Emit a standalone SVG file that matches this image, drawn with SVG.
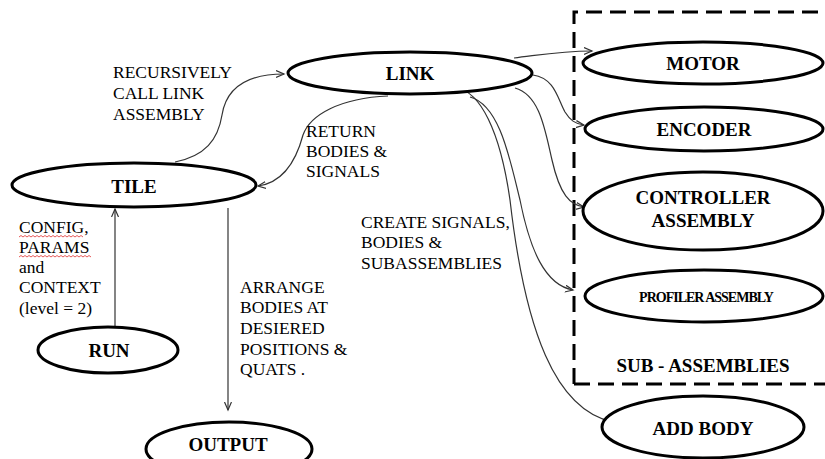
<svg xmlns="http://www.w3.org/2000/svg" width="825" height="459" viewBox="0 0 825 459">
<defs>
<style>
text{font-family:'Liberation Serif','DejaVu Serif','Times New Roman',serif}
.node{fill:#fff;stroke:#000;stroke-width:3}
.nt{font-weight:bold;font-size:19px;fill:#000;text-anchor:middle}
.sm{font-size:14px;letter-spacing:-1px}
.lb{font-size:17.5px;fill:#000}
.con{fill:none;stroke:#333;stroke-width:1.2;marker-end:url(#arr)}
.wavy{fill:none;stroke:#e03030;stroke-width:0.8}
</style>
<marker id="arr" markerUnits="userSpaceOnUse" markerWidth="10" markerHeight="10" refX="8" refY="4" orient="auto">
<path d="M0,0.5 L8,4 L0,7.5" fill="none" stroke="#333" stroke-width="1.2"/>
</marker>
</defs>
<rect width="825" height="459" fill="#fff"/>

<g id="subassemblies-box">
<path d="M574,384 L574,12 L825,12 M574,384 L825,384" fill="none" stroke="#000" stroke-width="3" stroke-dasharray="16 8"/>
<text class="nt" x="703" y="372">SUB - ASSEMBLIES</text>
</g>

<g id="connectors">
<path class="con" d="M115,327 L115,209"/>
<path class="con" d="M228,208 L228,410"/>
<path class="con" d="M175,162 C205,156 218,140 222,115 C226,90 245,74 284,74"/>
<path class="con" d="M388,96 C340,98 310,115 303,135 C295,165 280,183 258,186"/>
<path class="con" d="M514,58 C540,55 560,51 592,51"/>
<path class="con" d="M533,75 C555,78 558,100 565,112 C570,120 575,124 584,125"/>
<path class="con" d="M515,88 C540,95 545,130 552,160 C560,195 570,205 584,207"/>
<path class="con" d="M470,97 C500,105 510,160 520,200 C530,250 545,285 573,290"/>
<path class="con" d="M457,88 C480,92 500,130 510,200 C525,330 555,410 613,422"/>
</g>

<g id="link"><ellipse class="node" cx="410" cy="73" rx="122" ry="21"/><text class="nt" x="410" y="80">LINK</text></g>
<g id="tile"><ellipse class="node" cx="134" cy="185" rx="122" ry="22"/><text class="nt" x="134" y="193">TILE</text></g>
<g id="run"><ellipse class="node" cx="108" cy="350" rx="70" ry="23"/><text class="nt" x="109" y="357">RUN</text></g>
<g id="output"><ellipse class="node" cx="229" cy="449" rx="83" ry="27"/><text class="nt" x="228" y="451">OUTPUT</text></g>
<g id="motor"><ellipse class="node" cx="703" cy="63" rx="120" ry="21"/><text class="nt" x="703" y="70">MOTOR</text></g>
<g id="encoder"><ellipse class="node" cx="704" cy="129" rx="119" ry="22"/><text class="nt" x="704" y="136">ENCODER</text></g>
<g id="controller"><ellipse class="node" cx="703" cy="211" rx="120" ry="39"/><text class="nt" x="703" y="204">CONTROLLER</text><text class="nt" x="703" y="227">ASSEMBLY</text></g>
<g id="profiler"><ellipse class="node" cx="704" cy="296" rx="119" ry="26"/><text class="nt sm" x="706" y="302">PROFILER ASSEMBLY</text></g>
<g id="addbody"><ellipse class="node" cx="703" cy="427" rx="101" ry="31"/><text class="nt" x="703" y="435">ADD BODY</text></g>

<g id="labels">
<text class="lb" x="113" y="78">RECURSIVELY</text>
<text class="lb" x="113" y="99">CALL LINK</text>
<text class="lb" x="113" y="120">ASSEMBLY</text>
<text class="lb" x="306" y="137">RETURN</text>
<text class="lb" x="306" y="157">BODIES &amp;</text>
<text class="lb" x="306" y="177">SIGNALS</text>
<text class="lb" x="361" y="228">CREATE SIGNALS,</text>
<text class="lb" x="361" y="248">BODIES &amp;</text>
<text class="lb" x="361" y="269">SUBASSEMBLIES</text>
<text class="lb" x="19" y="233">CONFIG,</text>
<text class="lb" x="19" y="253">PARAMS</text>
<text class="lb" x="19" y="273">and</text>
<text class="lb" x="19" y="293">CONTEXT</text>
<text class="lb" x="19" y="314">(level = 2)</text>
<path class="wavy" d="M19,237 l2,-1.5 l2,1.5 l2,-1.5 l2,1.5 l2,-1.5 l2,1.5 l2,-1.5 l2,1.5 l2,-1.5 l2,1.5 l2,-1.5 l2,1.5 l2,-1.5 l2,1.5 l2,-1.5 l2,1.5 l2,-1.5 l2,1.5 l2,-1.5 l2,1.5 l2,-1.5 l2,1.5 l2,-1.5 l2,1.5 l2,-1.5 l2,1.5 l2,-1.5 l2,1.5 l2,-1.5 l2,1.5 l2,-1.5 l2,1.5"/>
<path class="wavy" d="M19,257 l2,-1.5 l2,1.5 l2,-1.5 l2,1.5 l2,-1.5 l2,1.5 l2,-1.5 l2,1.5 l2,-1.5 l2,1.5 l2,-1.5 l2,1.5 l2,-1.5 l2,1.5 l2,-1.5 l2,1.5 l2,-1.5 l2,1.5 l2,-1.5 l2,1.5 l2,-1.5 l2,1.5 l2,-1.5 l2,1.5 l2,-1.5 l2,1.5 l2,-1.5 l2,1.5 l2,-1.5 l2,1.5 l2,-1.5 l2,1.5 l2,-1.5 l2,1.5 l2,-1.5 l2,1.5"/>
<text class="lb" x="240" y="293">ARRANGE</text>
<text class="lb" x="240" y="313">BODIES AT</text>
<text class="lb" x="240" y="334">DESIERED</text>
<text class="lb" x="240" y="355">POSITIONS &amp;</text>
<text class="lb" x="240" y="375">QUATS .</text>
</g>
</svg>
